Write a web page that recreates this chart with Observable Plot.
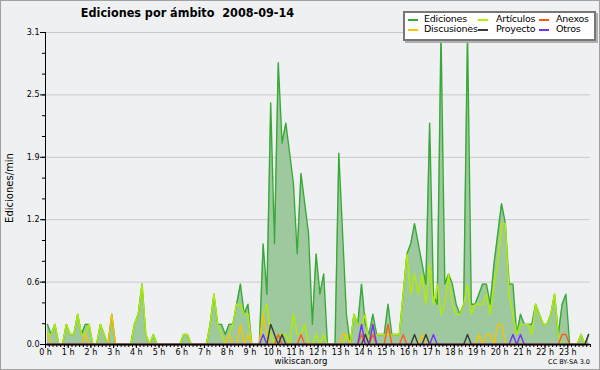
<!DOCTYPE html>
<html><head><meta charset="utf-8">
<script src="https://cdn.jsdelivr.net/npm/d3@7"></script>
<script src="https://cdn.jsdelivr.net/npm/@observablehq/plot@0.6"></script>
<style>
body{margin:0;background:#fff;}
#wrap{position:relative;width:600px;height:370px;background:#eff0f1;overflow:hidden;font-family:"DejaVu Sans",sans-serif;color:#000;}
#border{position:absolute;left:0;top:0;width:600px;height:370px;box-sizing:border-box;border:1px solid #a0a0a0;pointer-events:none;}
#chart{position:absolute;left:0;top:0;}
#title{position:absolute;left:0;width:375px;top:5px;text-align:center;font-weight:bold;font-size:12.5px;font-family:"DejaVu Sans Condensed","DejaVu Sans",sans-serif;white-space:pre;}
#ylab{position:absolute;left:9px;top:188px;transform:translate(-50%,-50%) rotate(-90deg);font-size:10px;white-space:nowrap;}
#site{position:absolute;left:301px;top:356px;transform:translateX(-50%);font-size:8.5px;}
#cc{position:absolute;right:10px;top:358px;font-size:6.5px;}
#legend{position:absolute;left:403px;top:11px;width:189px;height:26px;background:#fff;border:2px solid #777;box-shadow:2px 2px 0 #b0b0b0;font-family:"DejaVu Sans",sans-serif;font-size:9.5px;letter-spacing:-0.25px;}
.li{position:absolute;white-space:nowrap;line-height:10px;}
.sw{position:absolute;height:1.5px;}
</style>
</head><body>
<div id="wrap">
  <div id="chart"></div>
  <div id="title">Ediciones por ámbito  2008-09-14</div>
  <div id="ylab">Ediciones/min</div>
  <div id="legend"></div>
  <div id="site">wikiscan.org</div>
  <div id="cc">CC BY-SA 3.0</div>
  <div id="border"></div>
</div>
<script>
// 10-minute bins, edits per minute (6 values per hour, 0 h ... 23 h)
const ediciones = [
  0.2,0.1,0.2,0,0,0.2,        // 0 h
  0.1,0.1,0.3,0.1,0.2,0.2,    // 1 h
  0,0,0.2,0.1,0,0.3,          // 2 h
  0,0,0,0,0,0.2,              // 3 h
  0.3,0.6,0.1,0,0.1,0,        // 4 h
  0,0,0,0,0,0,                // 5 h
  0.1,0.1,0,0,0,0,            // 6 h
  0,0.2,0.5,0.2,0.2,0.1,      // 7 h
  0.2,0.2,0.4,0.6,0.3,0.4,    // 8 h
  0,0,0,1.0,0.5,2.4,          // 9 h
  1.0,2.8,2.0,2.2,1.9,1.6,    // 10 h
  0.9,1.7,1.4,1.1,0.2,0.9,    // 11 h
  0.5,0.7,0,0,0,1.9,          // 12 h
  1.1,0.3,0,0.3,0.2,0.6,      // 13 h
  0.2,0.1,0.3,0.1,0.1,0.1,    // 14 h
  0.4,0.1,0.1,0.1,0.5,0.9,    // 15 h
  1.0,1.2,1.0,0.8,0.6,2.2,    // 16 h
  0.5,0.4,3.1,0.6,0.7,0.6,    // 17 h
  0.4,0.3,0.4,3.1,0.4,0.4,    // 18 h
  0.5,0.6,0.6,0.4,0.8,1.1,    // 19 h
  1.4,1.2,0.6,0.6,0.1,0.3,    // 20 h
  0.2,0.2,0.2,0.4,0.3,0.2,    // 21 h
  0.2,0.3,0.5,0.1,0.4,0.5,    // 22 h
  0,0,0,0.1,0,0.1             // 23 h
];
const articulos = [
  0.1,0.1,0.2,0,0,0.2,
  0.1,0.1,0.3,0.1,0.1,0.2,
  0,0,0.2,0.1,0,0,
  0,0,0,0,0,0.2,
  0.3,0.6,0.1,0,0.1,0,
  0,0,0,0,0,0,
  0.1,0.1,0,0,0,0,
  0,0.2,0.5,0.2,0.1,0,
  0.1,0.2,0.4,0.4,0.3,0.3,
  0,0,0,0.3,0.4,0.1,
  0,0.1,0.1,0.1,0,0.3,
  0.1,0.1,0.2,0,0,0.1,
  0,0.1,0,0,0,0,
  0,0.1,0,0.3,0.2,0.2,
  0.3,0,0.1,0.1,0.1,0.1,
  0.1,0.1,0.1,0.1,0.5,0.9,
  0.5,0.7,0.5,0.7,0.4,0.8,
  0.4,0.6,0.3,0.4,0.7,0.4,
  0.3,0.3,0.4,0.6,0.3,0.4,
  0.4,0.4,0.5,0.3,0.6,0.8,
  1.2,1.2,0.5,0.3,0.1,0.2,
  0.2,0.2,0.1,0.4,0.3,0.2,
  0.2,0.3,0.5,0.1,0,0,
  0,0,0,0.1,0,0
];
const discusiones = [
  0.1,0,0,0,0,0,
  0,0,0,0,0.1,0,
  0,0,0,0,0,0.3,
  0,0,0,0,0,0,
  0,0,0,0,0,0,
  0,0,0,0,0,0,
  0,0,0,0,0,0,
  0,0,0,0,0,0,
  0.1,0,0,0.2,0,0.1,
  0,0,0,0.3,0.1,0,
  0,0,0,0,0,0,
  0,0,0,0,0,0,
  0,0,0,0,0,0,
  0.1,0.1,0,0,0,0,
  0,0,0,0,0,0,
  0,0,0,0,0,0,
  0,0,0,0.1,0,0,
  0,0,0,0,0,0,
  0,0,0,0,0,0,
  0.1,0,0.1,0.1,0,0.2,
  0.2,0,0,0,0,0,
  0,0,0,0,0,0,
  0,0,0,0,0,0,
  0,0,0,0,0,0
];
const anexos = [
  0,0,0,0,0,0, 0,0,0,0,0,0, 0,0,0,0,0,0, 0,0,0,0,0,0,
  0,0,0,0,0,0, 0,0,0,0,0,0, 0,0,0,0,0,0, 0,0,0,0,0,0,
  0,0,0,0,0,0,
  0,0,0,0,0,0,
  0,0.1,0,0,0,0,
  0,0.1,0,0,0,0,
  0,0,0,0,0,0,
  0,0,0,0,0,0.1,
  0,0,0.1,0,0,0,
  0.2,0,0,0,0.1,0,
  0,0,0,0,0,0,
  0,0,0,0,0,0,
  0,0,0,0,0,0,
  0,0,0,0,0,0,
  0,0,0,0,0,0,
  0,0,0,0,0,0,
  0,0,0,0,0.1,0.1,
  0,0,0,0,0,0
];
const proyecto = [
  0,0,0,0,0,0, 0,0,0,0,0,0, 0,0,0,0,0,0, 0,0,0,0,0,0,
  0,0,0,0,0,0, 0,0,0,0,0,0, 0,0,0,0,0,0, 0,0,0,0,0,0,
  0,0,0,0,0,0,
  0,0,0,0,0,0.2,
  0.1,0,0.1,0,0,0,
  0,0,0,0,0,0,
  0,0,0,0,0,0,
  0,0,0,0,0,0,
  0.1,0,0,0,0,0,
  0,0,0,0,0,0,
  0,0.1,0,0,0.1,0,
  0,0,0,0,0,0,
  0,0,0,0.1,0,0,
  0,0,0,0,0,0,
  0,0,0,0,0,0,
  0,0,0,0,0,0,
  0,0,0,0,0,0,
  0,0,0,0,0,0.1
];
const otros = [
  0,0,0,0,0,0, 0,0,0,0,0,0, 0,0,0,0,0,0, 0,0,0,0,0,0,
  0,0,0,0,0,0, 0,0,0,0,0,0, 0,0,0,0,0,0, 0,0,0,0,0,0,
  0,0,0,0,0,0,
  0,0,0,0.1,0,0,
  0,0,0,0,0,0,
  0,0,0,0,0,0,
  0,0,0,0,0,0,
  0,0,0,0,0,0.2,
  0,0,0.2,0,0,0,
  0,0,0,0,0,0,
  0,0,0,0,0,0,
  0.1,0,0,0,0,0,
  0,0,0,0,0,0,
  0,0,0,0,0,0,
  0,0,0,0.1,0,0.1,
  0,0,0,0,0,0,
  0,0,0,0,0,0,
  0,0,0,0,0,0
];

const seriesNames = ["Ediciones","Artículos","Anexos","Discusiones","Proyecto","Otros"];
const seriesColors = ["#38a838","#b2ec00","#ff5b1f","#f6c400","#3a3a3a","#7b2ff0"];
const yTicks = [0, 0.62, 1.24, 1.86, 2.48, 3.1];
const yTickLabels = ["0.0","0.6","1.2","1.9","2.5","3.1"];
const hourTicks = d3.range(24);
const hourLabels = ["0 h","1 h","2 h","3 h","4 h","5 h","6 h","7 h","8 h","9 h","10 h","11 h","12 h","13 h","14 h","15 h","16 h","17 h","18 h","19 h","20 h","21 h","22 h","23 h"];

const rows = ediciones.map((v, i) => ({
  h: (i + 0.5) / 6,
  ed: v, art: articulos[i], disc: discusiones[i], anx: anexos[i], proy: proyecto[i], otr: otros[i]
}));
const yMinor = d3.range(16).map(k => k * 3.1 / 15);
const xMinor = d3.range(145).map(k => k / 6);

const line = (key, color) => Plot.lineY(rows, {x: "h", y: key, stroke: color, strokeWidth: 1.4});

const chart = Plot.plot({
  width: 600, height: 370,
  marginLeft: 45, marginRight: 10, marginTop: 32, marginBottom: 26,
  style: {background: "transparent", fontFamily: "DejaVu Sans, sans-serif", fontSize: "8px", color: "#000"},
  x: {domain: [0, 24], axis: null},
  y: {domain: [0, 3.1], axis: null},
  marks: [
    Plot.ruleY(yTicks.slice(1), {stroke: "#c9c9c9"}),
    Plot.areaY(rows, {x: "h", y: "ed", fill: "#9ec99e"}),
    line("ed", seriesColors[0]),
    line("art", seriesColors[1]),
    line("disc", seriesColors[3]),
    line("anx", seriesColors[2]),
    line("proy", seriesColors[4]),
    line("otr", seriesColors[5]),
    Plot.axisY({ticks: yMinor, tickSize: 3, tickFormat: () => "", label: null}),
    Plot.axisY({ticks: yTicks, tickSize: 5, tickPadding: 1, tickFormat: d => yTickLabels[yTicks.indexOf(d)], label: null, fontSize: 8}),
    Plot.axisX({ticks: xMinor, tickSize: 3, tickFormat: () => "", label: null}),
    Plot.axisX({ticks: hourTicks, tickSize: 4, tickPadding: 1, tickFormat: d => hourLabels[d], label: null, fontSize: 8}),
    Plot.ruleX([0], {stroke: "#000"}),
    Plot.ruleY([0], {stroke: "#000", strokeWidth: 1.6})
  ]
});
document.getElementById("chart").appendChild(chart);

// legend: 3 columns x 2 rows (positions relative to legend box)
const lg = document.getElementById("legend");
const order = [[0, 0], [3, 0], [1, 1], [4, 1], [2, 2], [5, 2]]; // [series index, column]
const colSw = [3, 73, 134];
const colTx = [19, 91, 151];
order.forEach(([si, col], k) => {
  const row = k % 2;
  const sw = document.createElement("div");
  sw.className = "sw";
  sw.style.left = colSw[col] + "px";
  sw.style.width = "10px";
  sw.style.top = (6 + row * 10) + "px";
  sw.style.background = seriesColors[si];
  lg.appendChild(sw);
  const t = document.createElement("div");
  t.className = "li";
  t.style.left = colTx[col] + "px";
  t.style.top = (1 + row * 10) + "px";
  t.textContent = seriesNames[si];
  lg.appendChild(t);
});
</script>
</body></html>
